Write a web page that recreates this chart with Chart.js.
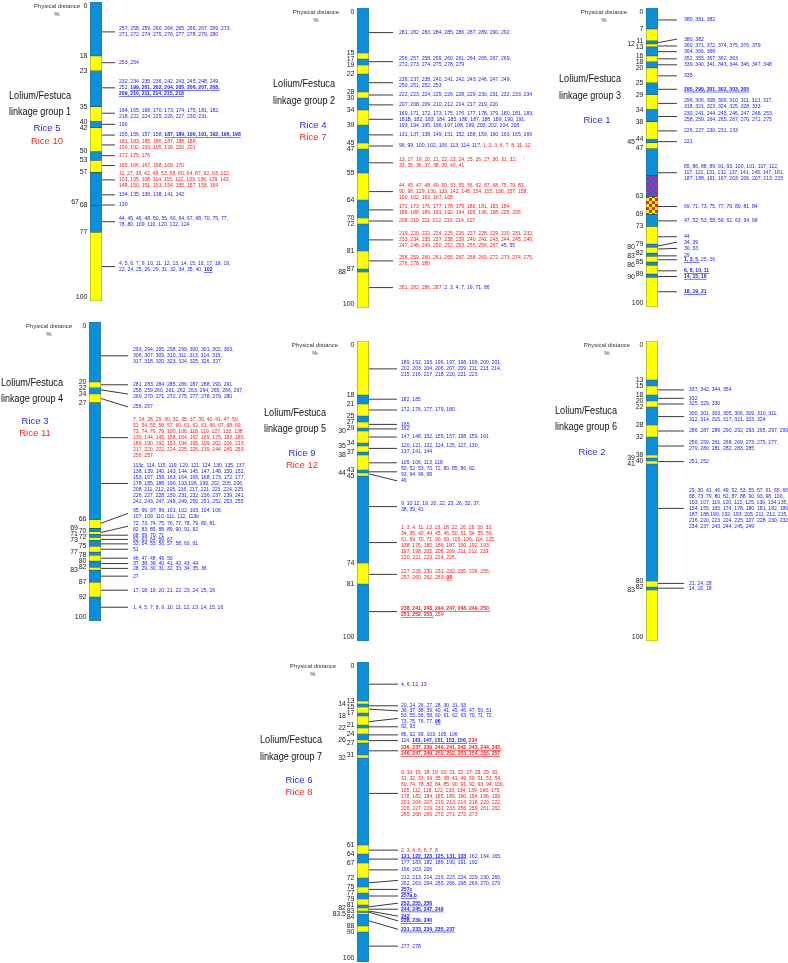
<!DOCTYPE html>
<html lang="en">
<head>
<meta charset="UTF-8">
<title>Lolium/Festuca linkage groups and rice chromosomes</title>
<script src="https://cdn.jsdelivr.net/npm/chart.js"></script>
<style>
    body { margin: 0; background: #fff; }
    #page { position: relative; width: 788px; height: 963px; overflow: hidden; background: #fff; }
    #page canvas { position: absolute; }
</style>
</head>
<body>
<div id="page"></div>
<script>
// ---------- data ----------
const lgNumbers = [1, 2, 3, 4, 5, 6, 7];
const riceBlue = ['Rice 5', 'Rice 4', 'Rice 1', 'Rice 3', 'Rice 9', 'Rice 2', 'Rice 6'];
const riceRed = ['Rice 10', 'Rice 7', '', 'Rice 11', 'Rice 12', '', 'Rice 8'];

// segment boundaries (% physical distance) and fill per segment: B blue, Y yellow, P/R checkered
const g1Bounds = [0, 18, 23, 35, 40, 42, 50, 53, 57, 68, 77, 100];
const g1Fill = 'BYBYBYBYBBY';
const g1Centro = [66.3];
const g1TicksIn = [0, 18, 23, 35, 40, 42, 50, 53, 57, 68, 77, 100];
const g1TicksOut = [67];
const g1At = [10, 20.3, 28.7, 37.2, 40.9, 44.5, 47.8, 51.4, 54.7, 59.5, 64.5, 67.9, 73.5, 88.5];
const g1TextAt = null;
const g1Ink = 'bbbbbbrrrrbbbb';
const g1Notes = [
    ['257, 258, 259, 260, 264, 265, 266, 267, 269, 273,', '271, 272, 274, 275, 276, 277, 278, 279, 280'],
    ['253, 254'],
    ['232, 234, 235, 236, 242, 243, 245, 248, 249,', '252, *199, 201, 202, 204, 205, 206, 207, 208,*', '*209, 210, 211, 214, 215, 218*'],
    ['164, 165, 168, 170, 173, 174, 175, 181, 182,', '218, 222, 224, 225, 226, 227, 230, 231'],
    ['190'],
    ['155, 156, 157, 158, *187, 189, 190, 191, 192, 196, 198*'],
    ['181, 183, 185, 186, 187, 188, 189,', '190, 192, 193, 195, 199, 200, 201'],
    ['172, 175, 176'],
    ['165, 166, 167, 168, 169, 170'],
    ['11, 27, 36, 42, 48, 53, 58, 60, 64, 87, 92, 93, 102,', '103, 105, 108, 114, 115, 122, 133, 136, 139, 143,', '148, 150, 151, 153, 154, 155, 157, 158, 164'],
    ['134, 135, 136, 138, 141, 142'],
    ['130'],
    ['44, 45, 46, 48, 50, 55, 60, 64, 67, 68, 70, 75, 77,', '78, 80, 109, 110, 120, 122, 124'],
    ['4, 5, 6, 7, 9, 10, 11, 12, 13, 14, 15, 16, 17, 18, 19,', '22, 24, 25, 26, 29, 31, 32, 34, 35, 40, *102*']
];

const g2Bounds = [0, 15, 17, 19, 22, 28, 30, 34, 39, 45, 47, 55, 64, 70, 72, 81, 87, 88, 100];
const g2Fill = 'BYBYBYBYBYBYBYBYBY';
const g2Centro = [59.2];
const g2TicksIn = [0, 15, 17, 19, 22, 28, 30, 34, 39, 45, 47, 55, 64, 70, 72, 81, 87, 100];
const g2TicksOut = [88];
const g2At = [8.2, 17.9, 24.9, 29, 32.3, 37.1, 42.3, 46, 51.6, 61.2, 67.3, 71, 77.3, 84.3, 93.2];
const g2TextAt = null;
const g2Ink = 'bbbbbbbbrrrrrrr';
const g2Notes = [
    ['281, 282, 283, 284, 285, 286, 287, 289, 290, 292'],
    ['256, 257, 258, 259, 260, 261, 264, 265, 267, 269,', '272, 273, 274, 275, 278, 279'],
    ['236, 237, 238, 240, 241, 242, 243, 246, 247, 249,', '250, 251, 252, 253'],
    ['222, 223, 224, 225, 226, 228, 229, 230, 231, 232, 233, 234'],
    ['207, 208, 209, 210, 212, 214, 217, 219, 220'],
    ['169, 171, 172, 173, 175, 176, 177, 178, 179, 180, 181, 183,', '181B, 182, 183, 184, 185, 186, 187, 188, 189, 190, 191,', '193, 194, 195, 196, 197,198, 199, 200, 202, 204, 205'],
    ['131, 137, 138, 149, 151, 152, 158, 159, 160, 163, 165, 166'],
    ['96, 99, 100, 102, 106, 113, 114, 117, ^1, 2, 3, 6, 7, 8, 11, 12'],
    ['13, 17, 19, 20, 21, 22, 23, 24, 25, 26, 27, 30, 31, 32,', '33, 35, 36, 37, 38, 39, 40, 41'],
    ['44, 45, 47, 48, 49, 50, 53, 55, 56, 62, 67, 68, 75, 79, 83,', '90, 96, 129, 130, 133, 142, 148, 154, 155, 156, 157, 158,', '160, 162, 163, 167, 168'],
    ['171, 173, 176, 177, 178, 179, 180, 181, 183, 184,', '186, 188, 189, 191, 192, 194, 195, 196, 198, 205, 206'],
    ['208, 210, 211, 212, 213, 214, 217'],
    ['219, 220, 222, 224, 225, 226, 227, 228, 229, 230, 231, 232,', '233, 234, 235, 237, 238, 239, 240, 241, 243, 244, 245, 246,', '247, 248, 249, 250, 252, 253, 255, 256, 257, ^45, 55'],
    ['258, 259, 260, 261, 265, 267, 268, 269, 272, 273, 274, 275,', '276, 278, 280'],
    ['281, 282, 286, 287, ^2, 3, 4, 7, 19, 71, 86']
];

const g3Bounds = [0, 7, 11, 12, 13, 16, 18, 20, 25, 29, 34, 38, 44, 45, 47, 56, 63, 69, 73, 79, 80, 82, 83, 85, 86, 89, 90, 100];
const g3Fill = 'BYBYBYBYBYBYBYBPRBYBYBYBYBY';
const g3Centro = [49.5];
const g3TicksIn = [0, 7, 11, 13, 16, 18, 20, 25, 29, 34, 38, 44, 47, 63, 69, 73, 79, 82, 85, 89, 100];
const g3TicksOut = [12, 45, 80, 83, 86, 90];
const g3At = [4, 11.6, 12.7, 14.6, 17, 19, 22.7, 27.2, 31.9, 36.3, 41.1, 44.7, 55.1, 66.4, 71.2, 76.5, 79.6, 80.6, 82.9, 84.2, 87.9, 89.8, 94.9];
const g3TextAt = [4, 10.4, 12.7, 14.6, 17, 19, 22.7, 27.2, 31.9, 36.3, 41.1, 44.7, 55.1, 66.4, 71.2, 76.5, 78.3, 80.4, 82.9, 84.2, 87.9, 89.8, 94.9];
const g3Ink = 'bbbbbbbbbbbbbbbbbbbbbbb';
const g3Notes = [
    ['380, 381, 382'],
    ['380, 382'],
    ['360, 371, 372, 374, 375, 376, 379'],
    ['364, 366, 368'],
    ['352, 355, 357, 362, 363'],
    ['339, 340, 341, 343, 344, 346, 347, 348'],
    ['335'],
    ['*295, 299, 301, 302, 303, 305*'],
    ['296, 306, 308, 309, 310, 311, 313, 317,', '318, 321, 323, 324, 325, 328, 333'],
    ['230, 241, 244, 245, 246, 247, 248, 253,', '258, 259, 264, 265, 267, 270, 272, 275'],
    ['226, 227, 230, 231, 233'],
    ['221'],
    ['85, 86, 88, 89, 91, 93, 100, 101, 107, 112,', '117, 121, 131, 132, 137, 141, 145, 147, 181,', '187, 188, 191, 197, 203, 206, 207, 213, 215'],
    ['69, 71, 73, 75, 77, 79, 80, 81, 84'],
    ['47, 52, 53, 58, 59, 62, 63, 64, 68'],
    ['44'],
    ['34, 39'],
    ['30, 33'],
    ['29'],
    ['*1, 3, 5,* 25, 26'],
    ['*6, 8, 10, 11*'],
    ['*14, 15, 16*'],
    ['*18, 19, 21*']
];

const g4Bounds = [0, 20, 22, 24, 27, 66, 69, 70, 71, 72, 73, 75, 77, 78, 80, 82, 83, 87, 92, 100];
const g4Fill = 'BYBYBYBYBYBYBYBYBYB';
const g4Centro = [50];
const g4TicksIn = [0, 20, 22, 24, 27, 66, 70, 72, 75, 78, 80, 82, 87, 92, 100];
const g4TicksOut = [69, 71, 73, 77, 83];
const g4At = [11.3, 21, 22.7, 25.6, 38.7, 54, 67.3, 70.4, 71.3, 72.7, 74.2, 76, 79, 80.8, 82.4, 85, 89.7, 95.4];
const g4TextAt = [11.3, 21, 24.1, 28.4, 38.7, 54, 64, 68.3, 71.3, 72.7, 74.2, 76, 79, 80.8, 82.4, 85, 89.7, 95.4];
const g4Ink = 'bbbbrbbbbbbbbbbbbb';
const g4Notes = [
    ['293, 294, 295, 298, 299, 300, 301, 302, 303,', '306, 307, 309, 310, 311, 313, 314, 315,', '317, 318, 320, 323, 324, 325, 326, 327'],
    ['281, 283, 284, 285, 286, 287, 288, 290, 291'],
    ['258, 259,260, 261, 262, 263, 264, 265, 266, 267,', '269, 270, 271, 272, 275, 277, 278, 279, 280'],
    ['256, 257'],
    ['7, 24, 28, 29, 30, 32, 35, 37, 39, 40, 41, 47, 50,', '51, 54, 55, 56, 57, 60, 61, 62, 63, 66, 67, 68, 69,', '73, 74, 76, 79, 100, 106, 118, 119, 127, 132, 138,', '139, 144, 145, 158, 164, 167, 169, 175, 183, 185,', '189, 190, 192, 193, 194, 195, 199, 202, 206, 213,', '217, 220, 222, 224, 225, 226, 239, 244, 245, 253,', '256, 257'],
    ['113c, 114, 115, 119, 120, 121, 124, 130, 135, 137,', '138, 139, 140, 143, 144, 145, 147, 148, 150, 152,', '153, 157, 158, 163, 164, 165, 168, 173, 172, 177,', '178, 185, 188, 190, 193,196, 199, 202, 205, 206,', '208, 211, 212, 215, 216, 217, 221, 223, 224, 225,', '226, 227, 228, 230, 231, 232, 236, 237, 239, 241,', '242, 243, 247, 248, 249, 250, 251, 252, 253, 255'],
    ['95, 96, 97, 99, 101, 102, 103, 104, 106,', '107, 109, 110, 111, 112, 113b'],
    ['72, 73, 74, 75, 76, 77, 78, 79, 80, 81,', '82, 83, 85, 88, 89, 90, 91, 92'],
    ['68, 69, 70, 71'],
    ['62, 63, 64, 66, 67'],
    ['53, 54, 55, 56, 57, 58, 60, 61'],
    ['51'],
    ['46, 47, 48, 49, 50'],
    ['37, 38, 39, 40, 41, 42, 43, 44'],
    ['28, 29, 30, 31, 32, 33, 34, 35, 36'],
    ['27'],
    ['17, 18, 19, 20, 21, 22, 23, 24, 25, 26'],
    ['1, 4, 5, 7, 8, 9, 10, 11, 12, 13, 14, 15, 16']
];

const g5Bounds = [0, 18, 21, 25, 27, 29, 30, 34, 35, 37, 38, 43, 44, 45, 74, 81, 100];
const g5Fill = 'YBYBYBYBYBYBYBYB';
const g5Centro = [64.7];
const g5TicksIn = [0, 18, 21, 25, 27, 29, 34, 37, 43, 45, 74, 81, 100];
const g5TicksOut = [30, 35, 38, 44];
const g5At = [9.3, 19.4, 23, 27.8, 29.3, 32, 35.8, 40.6, 43.6, 44.3, 55.2, 67.2, 77.8, 90.2];
const g5TextAt = [9.3, 19.4, 23, 27.8, 29.3, 32, 35.8, 40.6, 43.6, 46.6, 55.2, 67.2, 77.8, 90.2];
const g5Ink = 'bbbbbbbbbbbrrr';
const g5Notes = [
    ['189, 192, 193, 196, 197, 198, 199, 200, 201,', '202, 203, 204, 206, 207, 209, 211, 213, 214,', '215, 216, 217, 218, 220, 221, 223'],
    ['182, 185'],
    ['172, 176, 177, 179, 180'],
    ['165'],
    ['162'],
    ['147, 148, 152, 155, 157, 158, 159, 161'],
    ['120, 121, 122, 124, 125, 127, 130,', '137, 141, 144'],
    ['105, 106, 113, 118'],
    ['50, 52, 53, 70, 72, 80, 85, 86, 92,', '93, 94, 96, 98'],
    ['46'],
    ['9, 10,12, 19, 20, 22, 23, 26, 32, 37,', '38, 39, 41'],
    ['1, 3, 4, 11, 13, 16, 18, 22, 26, 29, 30, 33,', '34, 35, 40, 44, 45, 46, 50, 51, 54, 55, 59,', '61, 69, 70, 71, 90, 99, 105, 106, 114, 125,', '138, 176, 180, 186, 187, 190, 192, 193,', '197, 198, 205, 208, 209, 211, 212, 219,', '220, 221, 223, 224, 226,'],
    ['227, 228, 230, 231, 232, 235, 236, 256,', '257, 260, 262, 263, *98*'],
    ['*238, 241, 243, 244, 247, 248, 249, 250,*', '*251, 252, 253,* 259']
];

const g6Bounds = [0, 13, 15, 18, 20, 22, 28, 32, 38, 39, 40, 41, 80, 82, 83, 100];
const g6Fill = 'YBYBYBYBYBYBYBY';
const g6Centro = [59.3];
const g6TicksIn = [0, 13, 15, 18, 20, 22, 28, 32, 38, 40, 80, 82, 100];
const g6TicksOut = [39, 41, 83];
const g6At = [16.3, 19.1, 21, 25.2, 30, 35, 40.2, 55.8, 80.8, 82.4];
const g6TextAt = null;
const g6Ink = 'bbbbbbbbbb';
const g6Notes = [
    ['337, 342, 344, 354'],
    ['332'],
    ['325, 329, 330'],
    ['300, 301, 303, 305, 306, 309, 310, 311,', '312, 314, 315, 317, 321, 323, 324'],
    ['286, 287, 289, 290, 292, 293, 295, 297, 299,'],
    ['256, 259, 261, 268, 269, 273, 275, 277,', '279, 280, 281, 282, 283, 285'],
    ['251, 252'],
    ['29, 30, 41, 46, 49, 52, 53, 55, 57, 61, 65, 66,', '68, 73, 79, 80, 82, 87, 88, 90, 93, 98, 100,', '103, 107, 119, 120, 122, 125, 130, 134,135,', '154, 155, 165, 174, 178, 180, 181, 182, 186,', '187, 188,190, 192, 193, 205, 211, 212, 215,', '216, 220, 223, 224, 225, 227, 228, 230, 232,', '234, 237, 243, 244, 245, 249'],
    ['21, 24, 28'],
    ['14, 16, 18']
];

const g7Bounds = [0, 13, 14, 15, 17, 18, 21, 22, 24, 26, 27, 31, 32, 61, 64, 67, 72, 75, 77, 79, 81, 82, 83, 83.5, 84, 88, 90, 100];
const g7Fill = 'BYBYBYBYBYBYBYBYBYBYBYBYBYB';
const g7Centro = [50];
const g7TicksIn = [0, 13, 15, 17, 21, 24, 27, 31, 61, 64, 67, 72, 75, 77, 79, 81, 83, 84, 88, 90, 100];
const g7TicksOut = [14, 18, 22, 26, 32, 82, 83.5];
const g7At = [7.4, 14.6, 15.7, 19.9, 21.6, 24.3, 26.2, 29.6, 43.8, 62.7, 65.7, 69.3, 73.6, 75.8, 78, 81.6, 82.4, 83, 83.4, 86.3, 94.7];
const g7TextAt = [7.4, 14.6, 16.3, 18.8, 21.6, 24.3, 26.2, 29.6, 43.8, 62.7, 65.7, 69.3, 72.8, 75.8, 78, 80.4, 82.4, 84.7, 86.3, 89.1, 94.7];
const g7Ink = 'bbbbbbbrrrbbbbbbbbbbb';
const g7Notes = [
    ['4, 6, 12, 13'],
    ['20, 24, 26, 27, 28, 30, 31, 33'],
    ['36, 37, 38, 39, 40, 41, 45, 46, 47, 50, 51'],
    ['53, 55, 56, 58, 60, 61, 62, 63, 70, 71, 72,', '73, 75, 76, 77, *96*'],
    ['92, 93'],
    ['86, 92, 99, 103, 105, 106'],
    ['114, *143, 147, 151, 153, 156,* ^*234*'],
    ['*236, 237, 239, 240, 241, 242, 243, 244, 245,*', '*246, 247, 249, 250, 252, 253, 254, 255, 257*'],
    ['9, 10, 15, 18, 19, 20, 21, 22, 27, 28, 29, 30,', '31, 32, 33, 34, 35, 38, 41, 49, 50, 51, 53, 54,', '60, 74, 78, 82, 84, 85, 90, 91, 92, 93, 94, 100,', '105, 112, 118, 122, 133, 134, 139, 166, 175,', '178, 182, 184, 185, 189, 190, 194, 196, 199,', '201, 204, 207, 210, 213, 214, 216, 220, 222,', '226, 227, 229, 231, 233, 256, 259, 261, 262,', '265, 268, 269, 270, 271, 272, 273'],
    ['2, 3, 4, 5, 6, 7, 8'],
    ['*121, 122, 123, 125, 131, 133*, 162, 164, 165,', '177, 183, 182, 186, 190, 191, 192'],
    ['196, 203, 206'],
    ['212, 213, 214, 219, 223, 224, 229, 230, 260,', '262, 263, 264, 265, 266, 268, 269, 270, 273'],
    ['*257c*'],
    ['*257a,b*'],
    ['*252, 255, 256*'],
    ['*244, 245, 247, 248*'],
    ['*242*'],
    ['*238, 239, 240*'],
    ['*231, 233, 234, 235, 237*'],
    ['277, 278']
];

const groups = [
    { bounds: g1Bounds, fill: g1Fill, centro: g1Centro, ticksIn: g1TicksIn, ticksOut: g1TicksOut, at: g1At, textAt: g1TextAt, ink: g1Ink, notes: g1Notes },
    { bounds: g2Bounds, fill: g2Fill, centro: g2Centro, ticksIn: g2TicksIn, ticksOut: g2TicksOut, at: g2At, textAt: g2TextAt, ink: g2Ink, notes: g2Notes },
    { bounds: g3Bounds, fill: g3Fill, centro: g3Centro, ticksIn: g3TicksIn, ticksOut: g3TicksOut, at: g3At, textAt: g3TextAt, ink: g3Ink, notes: g3Notes },
    { bounds: g4Bounds, fill: g4Fill, centro: g4Centro, ticksIn: g4TicksIn, ticksOut: g4TicksOut, at: g4At, textAt: g4TextAt, ink: g4Ink, notes: g4Notes },
    { bounds: g5Bounds, fill: g5Fill, centro: g5Centro, ticksIn: g5TicksIn, ticksOut: g5TicksOut, at: g5At, textAt: g5TextAt, ink: g5Ink, notes: g5Notes },
    { bounds: g6Bounds, fill: g6Fill, centro: g6Centro, ticksIn: g6TicksIn, ticksOut: g6TicksOut, at: g6At, textAt: g6TextAt, ink: g6Ink, notes: g6Notes },
    { bounds: g7Bounds, fill: g7Fill, centro: g7Centro, ticksIn: g7TicksIn, ticksOut: g7TicksOut, at: g7At, textAt: g7TextAt, ink: g7Ink, notes: g7Notes }
];

// ---------- layout (page pixels) ----------
const layout = [
    { left: 90, top: 2, bottom: 301, line: 13, text: 17, phys: -33, lolX: 40, riceX: 47, ys: [96, 112, 128, 141] },
    { left: 357, top: 8, bottom: 308, line: 24, text: 30, phys: -41, lolX: 304, riceX: 313, ys: [84, 101, 125, 137] },
    { left: 646, top: 8, bottom: 307, line: 19, text: 26, phys: -42, lolX: 590, riceX: 597, ys: [79, 96, 120] },
    { left: 89, top: 322, bottom: 621, line: 27, text: 32, phys: -40, lolX: 32, riceX: 35, ys: [383, 399, 421, 433] },
    { left: 357, top: 341, bottom: 641, line: 28, text: 32, phys: -42, lolX: 295, riceX: 302, ys: [413, 429, 453, 465] },
    { left: 646, top: 341, bottom: 641, line: 26, text: 31, phys: -39, lolX: 586, riceX: 592, ys: [411, 427, 452] },
    { left: 357, top: 662, bottom: 962, line: 29, text: 32, phys: -44, lolX: 291, riceX: 299, ys: [740, 757, 780, 792] }
];
const BAR_W = 12;
const BLUE = '#2222e6', RED = '#f01c1c';
const NOTE_FONT = '5.1px "Liberation Sans", Arial, sans-serif';

function checker(c1, c2) {
    const p = document.createElement('canvas');
    p.width = p.height = 6;
    const g = p.getContext('2d');
    g.fillStyle = c1; g.fillRect(0, 0, 6, 6);
    g.fillStyle = c2; g.fillRect(0, 0, 3, 3); g.fillRect(3, 3, 3, 3);
    return g.createPattern(p, 'repeat');
}
const fills = {
    B: '#0b8fd9',
    Y: '#ffff00',
    P: checker('#3f63d2', '#b4228f'),
    R: checker('#ffff00', '#e3262b')
};

function drawRich(ctx, line, ink, x, y) {
    let bold = false, red = ink === 'r', buf = '';
    const flush = () => {
        if (!buf) return;
        ctx.font = (bold ? 'bold ' : '') + NOTE_FONT;
        ctx.fillStyle = red ? RED : BLUE;
        ctx.fillText(buf, x, y);
        if (bold) {
            const tw = ctx.measureText(buf.replace(/\s+$/, '')).width;
            ctx.fillRect(x, y + 2.4, tw, 0.6);
        }
        x += ctx.measureText(buf).width;
        buf = '';
    };
    for (const ch of line) {
        if (ch === '*') { flush(); bold = !bold; }
        else if (ch === '^') { flush(); red = !red; }
        else buf += ch;
    }
    flush();
}

function panelPlugin(i, cx, cy) {
    const g = groups[i], L = layout[i];
    return {
        id: 'panel' + i,
        afterDraw(chart) {
            const ctx = chart.ctx, y = chart.scales.y, a = chart.chartArea;
            ctx.save();
            // tick labels in two columns
            ctx.font = '7px "Liberation Sans", Arial, sans-serif';
            ctx.fillStyle = '#222';
            ctx.textAlign = 'right';
            ctx.textBaseline = 'middle';
            [[g.ticksIn, 2.5], [g.ticksOut, 11]].forEach(([list, off]) => {
                let prev = -Infinity;
                list.forEach(v => {
                    let py = Math.min(Math.max(y.getPixelForValue(v), a.top + 4.5), a.bottom - 4);
                    if (py - prev < 6) py = prev + 6;
                    prev = py;
                    ctx.fillText(String(v), a.left - off, py);
                });
            });
            // axis caption
            ctx.textAlign = 'center';
            ctx.font = '6px "Liberation Sans", Arial, sans-serif';
            ctx.fillStyle = '#333';
            ctx.fillText('Physical distance', a.left + L.phys, a.top + 4);
            ctx.fillText('%', a.left + L.phys, a.top + 12);
            // group labels
            ctx.font = '10px "Liberation Sans", Arial, sans-serif';
            ctx.fillStyle = '#111';
            ctx.fillText('Lolium/Festuca', L.lolX - cx, L.ys[0] - cy, 62);
            ctx.fillText('linkage group ' + lgNumbers[i], L.lolX - cx, L.ys[1] - cy, 62);
            ctx.font = '9.5px "Liberation Sans", Arial, sans-serif';
            ctx.fillStyle = '#2b2bd6';
            ctx.fillText(riceBlue[i], L.riceX - cx, L.ys[2] - cy);
            if (riceRed[i]) {
                ctx.fillStyle = '#ee2b2b';
                ctx.fillText(riceRed[i], L.riceX - cx, L.ys[3] - cy);
            }
            // marker leader lines and marker lists
            ctx.textAlign = 'left';
            g.at.forEach((p, k) => {
                const q = g.textAt ? g.textAt[k] : p;
                const y0 = y.getPixelForValue(p), y1 = y.getPixelForValue(q);
                ctx.strokeStyle = '#3a3a3a';
                ctx.lineWidth = 1;
                ctx.beginPath();
                ctx.moveTo(a.right, y0);
                ctx.lineTo(a.right + L.line, y1);
                ctx.stroke();
                const lines = g.notes[k];
                let ty = y1 - (lines.length - 1) * 3;
                lines.forEach(line => {
                    drawRich(ctx, line, g.ink[k], a.right + L.text, ty);
                    ty += 6;
                });
            });
            ctx.restore();
        }
    };
}

const page = document.getElementById('page');
groups.forEach((g, i) => {
    const L = layout[i];
    const cx = Math.max(0, L.left - 105), cy = Math.max(0, L.top - 10);
    const cr = Math.min(788, L.left + 200), cb = Math.min(963, L.bottom + 10);
    const canvas = document.createElement('canvas');
    canvas.width = cr - cx;
    canvas.height = cb - cy;
    canvas.style.left = cx + 'px';
    canvas.style.top = cy + 'px';
    page.appendChild(canvas);

    const datasets = [];
    for (let k = 0; k < g.fill.length; k++) {
        datasets.push({
            data: [[g.bounds[k], g.bounds[k + 1]]],
            backgroundColor: fills[g.fill[k]],
            borderColor: 'rgba(25, 70, 60, 0.8)',
            borderWidth: 0.7,
            borderSkipped: false
        });
    }
    g.centro.forEach(c => datasets.push({
        data: [[c - 0.45, c + 0.45]],
        backgroundColor: '#74204f',
        borderWidth: 0
    }));

    new Chart(canvas, {
        type: 'bar',
        data: { labels: ['LG' + lgNumbers[i]], datasets },
        options: {
            responsive: false,
            animation: false,
            devicePixelRatio: 1,
            events: [],
            layout: {
                padding: {
                    left: L.left - cx,
                    right: cr - (L.left + BAR_W),
                    top: L.top - cy,
                    bottom: cb - L.bottom
                }
            },
            datasets: { bar: { barPercentage: 1, categoryPercentage: 1 } },
            scales: {
                x: { display: false, stacked: true },
                y: { display: false, reverse: true, min: 0, max: 100 }
            },
            plugins: { legend: { display: false }, tooltip: { enabled: false } }
        },
        plugins: [panelPlugin(i, cx, cy)]
    });
});
</script>
</body>
</html>
